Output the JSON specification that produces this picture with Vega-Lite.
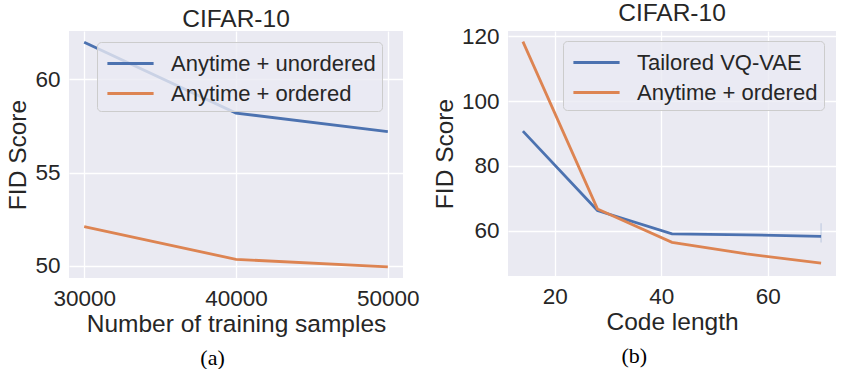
{
  "$schema": "https://vega.github.io/schema/vega-lite/v6.json",
  "background": "white",
  "padding": {"left": 5, "top": 0, "right": 0, "bottom": 0},
  "spacing": 12,
  "config": {
    "view": {"fill": "#EAEAF2", "stroke": null},
    "axis": {
      "gridColor": "white", "gridWidth": 1.3, "domain": false, "ticks": false,
      "labelFont": "Liberation Sans", "labelFontSize": 22.5, "labelColor": "#262626", "labelPadding": 9,
      "titleFont": "Liberation Sans", "titleFontSize": 24.5, "titleFontWeight": "normal", "titleColor": "#262626"
    },
    "axisX": {"titlePadding": 3},
    "axisY": {"titlePadding": 4},
    "title": {"font": "Liberation Sans", "fontSize": 24.5, "fontWeight": "normal", "color": "#262626", "offset": -1},
    "legend": {
      "orient": "none", "title": null, "fillColor": "rgba(234,234,242,0.8)", "strokeColor": "#CCCCCC", "cornerRadius": 4,
      "padding": 6, "labelFont": "Liberation Sans", "labelFontSize": 22, "labelColor": "#262626", "labelLimit": 0,
      "symbolType": "M-1.65,0H1.65", "symbolSize": 784, "symbolStrokeWidth": 3, "symbolOffset": 12, "labelOffset": 25, "rowPadding": 3
    },
    "line": {"strokeWidth": 2.8}
  },
  "resolve": {"scale": {"color": "independent"}, "legend": {"color": "independent"}},
  "hconcat": [
    {
      "title": {"text": "(a)", "orient": "bottom", "anchor": "middle", "font": "Liberation Serif", "fontSize": 22, "color": "black", "offset": 12},
      "vconcat": [
        {
          "title": "CIFAR-10",
          "width": 334, "height": 247,
          "data": {"values": [
            {"samples": 30000, "fid": 62.0, "method": "Anytime + unordered"},
            {"samples": 40000, "fid": 58.2, "method": "Anytime + unordered"},
            {"samples": 50000, "fid": 57.2, "method": "Anytime + unordered"},
            {"samples": 30000, "fid": 52.1, "method": "Anytime + ordered"},
            {"samples": 40000, "fid": 50.35, "method": "Anytime + ordered"},
            {"samples": 50000, "fid": 49.95, "method": "Anytime + ordered"}
          ]},
          "mark": {"type": "line"},
          "encoding": {
            "x": {"field": "samples", "type": "quantitative", "title": "Number of training samples",
                  "scale": {"domain": [29000, 51000], "nice": false, "zero": false},
                  "axis": {"values": [30000, 40000, 50000], "format": "d"}},
            "y": {"field": "fid", "type": "quantitative", "title": "FID Score",
                  "scale": {"domain": [49.35, 62.6], "nice": false, "zero": false},
                  "axis": {"values": [50, 55, 60]}},
            "color": {"field": "method", "type": "nominal",
                      "scale": {"domain": ["Anytime + unordered", "Anytime + ordered"], "range": ["#4C72B0", "#DD8452"]},
                      "legend": {"legendX": 28, "legendY": 11}}
          }
        }
      ]
    },
    {
      "title": {"text": "(b)", "orient": "bottom", "anchor": "middle", "font": "Liberation Serif", "fontSize": 22, "color": "black", "offset": 12},
      "vconcat": [
        {
          "title": "CIFAR-10",
          "width": 328, "height": 245,
          "layer": [
            {
              "data": {"values": [
                {"len": 70, "lo": 56.3, "hi": 62.3}
              ]},
              "mark": {"type": "rule", "strokeWidth": 1.5, "opacity": 0.2, "color": "#4C72B0"},
              "encoding": {
                "x": {"field": "len", "type": "quantitative"},
                "y": {"field": "lo", "type": "quantitative"},
                "y2": {"field": "hi"}
              }
            },
            {
              "data": {"values": [
                {"len": 14, "fid": 90.7, "method": "Tailored VQ-VAE"},
                {"len": 28, "fid": 66.2, "method": "Tailored VQ-VAE"},
                {"len": 42, "fid": 59.0, "method": "Tailored VQ-VAE"},
                {"len": 56, "fid": 58.7, "method": "Tailored VQ-VAE"},
                {"len": 70, "fid": 58.2, "method": "Tailored VQ-VAE"},
                {"len": 14, "fid": 118.3, "method": "Anytime + ordered"},
                {"len": 28, "fid": 66.7, "method": "Anytime + ordered"},
                {"len": 42, "fid": 56.4, "method": "Anytime + ordered"},
                {"len": 56, "fid": 52.8, "method": "Anytime + ordered"},
                {"len": 70, "fid": 50.0, "method": "Anytime + ordered"}
              ]},
              "mark": {"type": "line"},
              "encoding": {
                "x": {"field": "len", "type": "quantitative", "title": "Code length",
                      "scale": {"domain": [11.2, 72.8], "nice": false, "zero": false},
                      "axis": {"values": [20, 40, 60]}},
                "y": {"field": "fid", "type": "quantitative", "title": "FID Score",
                      "scale": {"domain": [46.0, 121.6], "nice": false, "zero": false},
                      "axis": {"values": [60, 80, 100, 120]}},
                "color": {"field": "method", "type": "nominal",
                          "scale": {"domain": ["Tailored VQ-VAE", "Anytime + ordered"], "range": ["#4C72B0", "#DD8452"]},
                          "legend": {"legendX": 55, "legendY": 10}}
              }
            }
          ]
        }
      ]
    }
  ]
}
